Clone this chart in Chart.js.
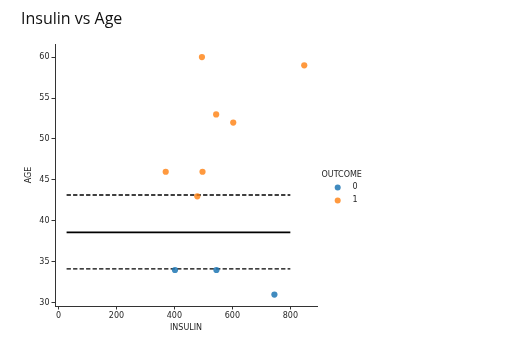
<!DOCTYPE html>
<html>
<head>
<meta charset="utf-8">
<script src="https://cdn.jsdelivr.net/npm/chart.js@4/dist/chart.umd.min.js"></script>
<style>
    html, body { margin: 0; padding: 0; background: #fff; }
    #wrap { position: relative; width: 512px; height: 350px; }
</style>
</head>
<body>
<div id="wrap"><canvas id="chart" width="512" height="350"></canvas></div>
<script>
// Datos
const insulin0 = [402, 545, 745];
const age0 = [34, 34, 31];
const insulin1 = [495, 848, 544, 603, 370, 497, 479];
const age1 = [60, 59, 53, 52, 46, 46, 43];

// Líneas de referencia (media y ± desviación)
const lineX = [28, 800];
const meanAge = 38.6;
const upperAge = 43.15;
const lowerAge = 34.14;

const xTicks = [0, 200, 400, 600, 800];
const yTicks = [30, 35, 40, 45, 50, 55, 60];

const blue = 'rgba(31, 119, 180, 0.85)';
const orange = 'rgba(255, 127, 14, 0.8)';
const axisColor = '#333333';
const textColor = '#262626';

const toPoints = (xs, ys) => xs.map((x, i) => ({ x, y: ys[i] }));
const hLine = (y) => lineX.map(x => ({ x, y }));

// Título y leyenda dibujados a mano
const extras = {
    id: 'extras',
    afterDraw(chart) {
        const ctx = chart.ctx;
        ctx.save();
        ctx.fillStyle = '#111';
        ctx.font = '16px "Open Sans"';
        ctx.textBaseline = 'alphabetic';
        ctx.textAlign = 'left';
        ctx.fillText('Insulin vs Age', 21, 23.5);

        ctx.fillStyle = textColor;
        ctx.font = '8px "DejaVu Sans"';
        ctx.textBaseline = 'middle';
        ctx.fillText('OUTCOME', 321.5, 174.5);

        const items = [['0', blue, 187.5], ['1', orange, 200.5]];
        items.forEach(([label, color, y]) => {
            ctx.beginPath();
            ctx.fillStyle = color;
            ctx.arc(337.7, y, 3, 0, Math.PI * 2);
            ctx.fill();
            ctx.fillStyle = textColor;
            ctx.fillText(label, 352.5, y - 0.5);
        });
        ctx.restore();
    }
};

new Chart(document.getElementById('chart'), {
    type: 'scatter',
    data: {
        datasets: [
            {
                label: '0',
                data: toPoints(insulin0, age0),
                backgroundColor: blue,
                borderWidth: 0,
                pointRadius: 3.1,
                order: 1
            },
            {
                label: '1',
                data: toPoints(insulin1, age1),
                backgroundColor: orange,
                borderWidth: 0,
                pointRadius: 3.1,
                order: 1
            },
            {
                label: 'media',
                data: hLine(meanAge),
                showLine: true,
                borderColor: '#000',
                borderWidth: 1.8,
                pointRadius: 0,
                order: 2
            },
            {
                label: 'sup',
                data: hLine(upperAge),
                showLine: true,
                borderColor: '#000',
                borderWidth: 1.4,
                borderDash: [4.3, 2.2],
                pointRadius: 0,
                order: 2
            },
            {
                label: 'inf',
                data: hLine(lowerAge),
                showLine: true,
                borderColor: '#000',
                borderWidth: 1.4,
                borderDash: [4.3, 2.2],
                pointRadius: 0,
                order: 2
            }
        ]
    },
    options: {
        responsive: false,
        animation: false,
        layout: { padding: { top: 44, right: 195, bottom: 0, left: 0 } },
        plugins: {
            legend: { display: false },
            tooltip: { enabled: false }
        },
        scales: {
            x: {
                type: 'linear',
                min: -12,
                max: 892,
                afterFit: (s) => { s.height = 44; },
                afterBuildTicks: (s) => { s.ticks = xTicks.map(v => ({ value: v })); },
                grid: { drawOnChartArea: false, drawTicks: true, tickLength: 3.5, color: axisColor, lineWidth: 1 },
                border: { display: true, color: axisColor, width: 1 },
                ticks: { color: textColor, font: { family: 'DejaVu Sans', size: 8 }, padding: 2, maxRotation: 0 },
                title: {
                    display: true,
                    text: 'INSULIN',
                    color: textColor,
                    font: { family: 'DejaVu Sans', size: 8 },
                    padding: { top: 0, bottom: 17.5 }
                }
            },
            y: {
                type: 'linear',
                min: 29.6,
                max: 61.6,
                afterFit: (s) => { s.width = 55; },
                afterBuildTicks: (s) => { s.ticks = yTicks.map(v => ({ value: v })); },
                grid: { drawOnChartArea: false, drawTicks: true, tickLength: 3.5, color: axisColor, lineWidth: 1 },
                border: { display: true, color: axisColor, width: 1 },
                ticks: { color: textColor, font: { family: 'DejaVu Sans', size: 8 }, padding: 2 },
                title: {
                    display: true,
                    text: 'AGE',
                    color: textColor,
                    font: { family: 'DejaVu Sans', size: 8 },
                    padding: { top: 24.5, bottom: 0 }
                }
            }
        }
    },
    plugins: [extras]
});
</script>
</body>
</html>
